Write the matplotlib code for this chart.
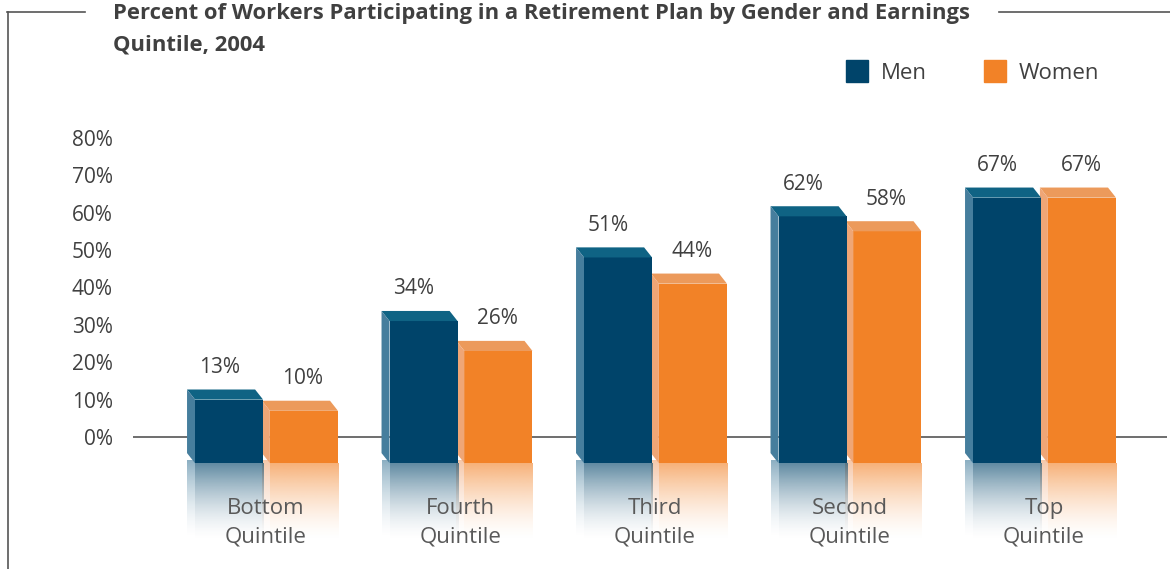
import matplotlib

matplotlib.use("Agg")
import matplotlib.pyplot as plt
import numpy as np
from matplotlib.lines import Line2D
from matplotlib.patches import Patch
from matplotlib.colors import to_rgb

# data
categories = ["Bottom\nQuintile", "Fourth\nQuintile", "Third\nQuintile",
              "Second\nQuintile", "Top\nQuintile"]
men = [13, 34, 51, 62, 67]
women = [10, 26, 44, 58, 67]
yticks = [0, 10, 20, 30, 40, 50, 60, 70, 80]
title_1 = "Percent of Workers Participating in a Retirement Plan by Gender and Earnings"
title_2 = "Quintile, 2004"

# layout (pixels of the 1170x569 canvas)
W, H = 1170, 569
PX_PER_10 = 37.4
ZERO_PX = 437
GROUP_PX = 194.5
FIRST_PX = 266
AX_L, AX_R = 133, 1167

MEN_C = dict(front="#00446A", top="#0F6384", side="#467E9D")
WOMEN_C = dict(front="#F28227", top="#EC9A5B", side="#EFA676")
TXT = "#404040"

plt.rcParams["font.family"] = ["Open Sans", "DejaVu Sans"]

fig = plt.figure(figsize=(W / 100, H / 100), dpi=100)
ax = fig.add_axes([AX_L / W, 0, (AX_R - AX_L) / W, 1])
xlim = (-(FIRST_PX - AX_L) / GROUP_PX, (AX_R - FIRST_PX) / GROUP_PX)
ylim = (-(H - ZERO_PX) / PX_PER_10 * 10, ZERO_PX / PX_PER_10 * 10)

x = np.arange(len(categories))
bw = 0.35          # front face width
base = -7          # bars sink below the floor line
sink = 3.0         # front top edge sits a bit under the value
dx, dy = -0.041, 2.7   # 3d depth offset
refl_h = 21


def fade(color, x0, x1, top, z):
    r, g, b = to_rgb(color)
    t = np.linspace(0, 1, 64)
    img = np.zeros((64, 1, 4))
    img[:, 0, 0], img[:, 0, 1], img[:, 0, 2] = r, g, b
    img[:, 0, 3] = 0.62 * (1 - t) ** 1.6
    ax.imshow(img, extent=(x0, x1, top - refl_h, top), aspect="auto",
              origin="upper", zorder=z, interpolation="bilinear")


def draw(xl, vals, c, z):
    tops = np.array(vals, dtype=float) - sink
    ax.bar(xl, tops - base, bottom=base, width=bw, align="edge",
           color=c["front"], linewidth=0, zorder=z)
    for x0, t in zip(xl, tops):
        x1 = x0 + bw
        ax.fill([x0, x1, x1 + dx, x0 + dx], [t, t, t + dy, t + dy],
                color=c["top"], lw=0, zorder=z)
        ax.fill([x0 + dx, x0, x0, x0 + dx], [base + dy, base, t, t + dy],
                color=c["side"], lw=0, zorder=z)
        fade(c["front"], x0, x1, base, z - 0.5)
        fade(c["side"], x0 + dx, x0, base + dy * 0.3, z - 0.6)


draw(x + 0.02, women, WOMEN_C, 3)
draw(x - 0.365, men, MEN_C, 4)

for xi, v in zip(x, men):
    ax.text(xi - 0.24, v + 5.6, f"{v}%", ha="center", va="center",
            fontsize=15, color=TXT)
for xi, v in zip(x, women):
    ax.text(xi + 0.19, v + 5.6, f"{v}%", ha="center", va="center",
            fontsize=15, color=TXT)

lab_y = (ZERO_PX - 523) / PX_PER_10 * 10
for xi, lab in zip(x, categories):
    ax.text(xi, lab_y, lab, ha="center", va="center", fontsize=16,
            color="#595959", linespacing=1.5, zorder=6)

ax.axhline(0, color="#555555", lw=1.2, zorder=1)
ax.set_xlim(*xlim)
ax.set_ylim(*ylim)
ax.set_yticks(yticks, [f"{t}%" for t in yticks])
ax.tick_params(axis="y", length=0, pad=14.4, labelsize=15, labelcolor=TXT)
ax.set_xticks([])
for s in ax.spines.values():
    s.set_visible(False)
ax.patch.set_alpha(0)

# title and frame lines
fig.text(113 / W, 1 - 19 / H, title_1, fontsize=15.8, fontweight="bold",
         color=TXT, va="baseline")
fig.text(113 / W, 1 - 51 / H, title_2, fontsize=15.8, fontweight="bold",
         color=TXT, va="baseline")
lc = "#555555"
fig.add_artist(Line2D([7 / W, 85 / W], [1 - 12 / H] * 2, color=lc, lw=1.2))
fig.add_artist(Line2D([999 / W, 1], [1 - 12 / H] * 2, color=lc, lw=1.2))
fig.add_artist(Line2D([8 / W] * 2, [1 - 12 / H, 0], color=lc, lw=1.2))

handles = [Patch(color=MEN_C["front"], label="Men"),
           Patch(color=WOMEN_C["front"], label="Women")]
fig.legend(handles=handles, loc="center left", ncol=2,
           bbox_to_anchor=(846 / W, 1 - 72 / H), frameon=False,
           fontsize=16, handlelength=1.0, handleheight=1.1,
           handletextpad=0.55, columnspacing=2.6, borderpad=0,
           borderaxespad=0, labelcolor=TXT)

fig.savefig("out.png", dpi=100)
